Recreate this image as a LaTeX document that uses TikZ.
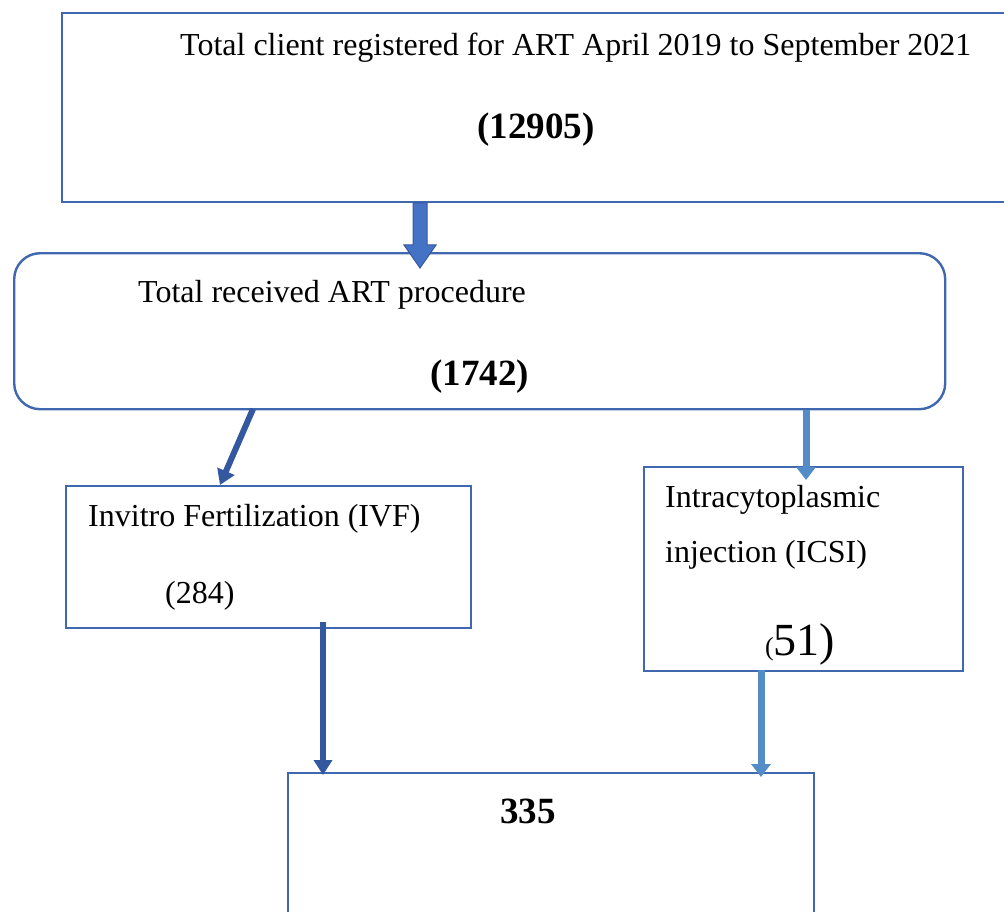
\documentclass[tikz,border=0pt]{standalone}
\usepackage{fontspec}
\setmainfont{Liberation Serif}
\usetikzlibrary{arrows.meta}
\definecolor{boxc}{RGB}{64,104,176}
\definecolor{darkarr}{RGB}{52,88,160}
\definecolor{midarr}{RGB}{68,114,196}
\definecolor{lightarr}{RGB}{84,140,200}
\tikzset{
  frame/.style={draw=boxc, line width=2.4pt, fill=none},
  txt/.style={anchor=base west, inner sep=0pt, text=black, font=\fontsize{32}{38}\selectfont},
  bnum/.style={anchor=base west, inner sep=0pt, text=black, font=\fontsize{37}{44}\selectfont\bfseries},
  darrow/.style={draw=darkarr, line width=6pt, -{Triangle[width=18pt,length=15pt]}},
  larrow/.style={draw=lightarr, line width=7pt, -{Triangle[width=19pt,length=13pt]}},
}
\begin{document}
\begin{tikzpicture}[x=1pt,y=-1pt]
\useasboundingbox (0,0) rectangle (1004,912);
% boxes
\draw[frame] (1010,13) -- (62,13) -- (62,202) -- (1010,202);
\node[frame, rounded corners=26pt, minimum width=931pt, minimum height=156pt, anchor=north west, inner sep=0pt] (b2) at (13,252) {};
\node[frame, minimum width=405pt, minimum height=142pt, anchor=north west, inner sep=0pt] (b3) at (65,485) {};
\node[frame, minimum width=319pt, minimum height=204pt, anchor=north west, inner sep=0pt] (b4) at (643,466) {};
\draw[frame] (288,920) -- (288,773) -- (814,773) -- (814,920);
\coordinate (b5top) at (551,773);
% texts
\node[txt] (t1) at (180,56) {Total client registered for ART April 2019 to September 2021};
\node[bnum] (n1) at (477,139) {(12905)};
\node[txt] (t2) at (138,302) {Total received ART procedure};
\node[bnum] (n2) at (430,385) {(1742)};
\node[txt] (t3) at (88,526) {Invitro Fertilization (IVF)};
\node[txt] (n3) at (165,603) {(284)};
\node[txt] (t4) at (665,507) {Intracytoplasmic};
\node[txt] (t5) at (665,562) {injection (ICSI)};
\node[txt] (n4) at (765,655) {\fontsize{26}{30}\selectfont(\fontsize{46}{52}\selectfont 51)};
\node[bnum] (n5) at (500,823) {335};
% arrows
\coordinate (a1s) at (420,202);
\coordinate (a1e) at (420,268);
\fill[midarr, draw=darkarr, line width=1pt] (413,203) -- (427,203) -- (427,245) -- (436,245) -- (420,268) -- (404,245) -- (413,245) -- cycle;
\coordinate (a2s) at (253,409);
\coordinate (a2e) at (220,485);
\draw[darrow] (a2s) -- (a2e);
\coordinate (a3s) at (806,410);
\coordinate (a3e) at (806,480);
\draw[larrow] (a3s) -- (a3e);
\coordinate (a4s) at (323,622);
\coordinate (a4e) at (323,775);
\draw[darrow] (a4s) -- (a4e);
\coordinate (a5s) at (761,670);
\coordinate (a5e) at (761,777);
\draw[larrow] (a5s) -- (a5e);
\end{tikzpicture}
\end{document}
